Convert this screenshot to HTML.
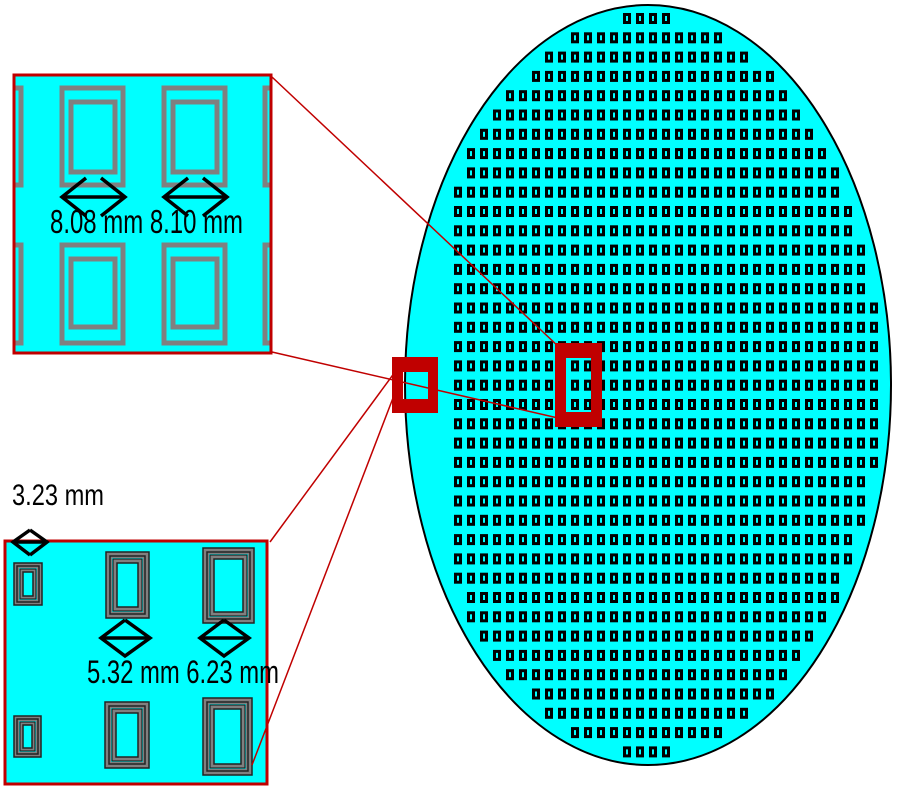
<!DOCTYPE html>
<html><head><meta charset="utf-8"><style>
html,body{margin:0;padding:0;background:#fff;width:900px;height:800px;overflow:hidden}
svg{display:block}
text{font-family:"Liberation Sans Narrow","Liberation Sans",sans-serif;fill:#000}
</style></head><body>
<svg id="s" width="900" height="800" viewBox="0 0 900 800" xmlns="http://www.w3.org/2000/svg">
<defs><clipPath id="c1"><rect x="14" y="75" width="257" height="278"/></clipPath></defs>
<ellipse cx="648" cy="385" rx="243" ry="380" fill="#00ffff" stroke="#000" stroke-width="2"/>
<g id="cells"></g>

<path d="M392 357h46v56h-46z M403 372v27h25v-27z" fill="#c00000" fill-rule="evenodd"/>
<path d="M555 343h47v84h-47z M566 358v54h25v-54z" fill="#c00000" fill-rule="evenodd"/>

<rect x="14" y="75" width="257" height="278" fill="#00ffff"/>
<g fill="none" stroke="#808080" stroke-width="5" clip-path="url(#c1)">
<rect x="62" y="88" width="61" height="97"/><rect x="71" y="102" width="44" height="70"/>
<rect x="164" y="88" width="61" height="97"/><rect x="173" y="102" width="44" height="70"/>
<rect x="62" y="245" width="61" height="98"/><rect x="71" y="259" width="44" height="68"/>
<rect x="164" y="245" width="61" height="98"/><rect x="173" y="259" width="44" height="68"/>
<rect x="4" y="88" width="17" height="97"/><rect x="4" y="245" width="17" height="98"/>
<rect x="265" y="88" width="17" height="97"/><rect x="265" y="245" width="17" height="98"/>
</g>
<rect x="14" y="75" width="257" height="278" fill="none" stroke="#c00000" stroke-width="3"/>
<g stroke="#000" stroke-width="3.5" fill="none">
<line x1="62" y1="197" x2="125" y2="197"/>
<polyline points="86,178 62,197 86,216"/><polyline points="101,178 125,197 101,216"/>
<line x1="164" y1="197" x2="227" y2="197"/>
<polyline points="188,178 164,197 188,216"/><polyline points="203,178 227,197 203,216"/>
</g>
<text x="50" y="233" font-size="33" textLength="193" lengthAdjust="spacingAndGlyphs">8.08 mm 8.10 mm</text>

<rect x="5" y="541" width="262" height="243" fill="#00ffff" stroke="#c00000" stroke-width="3"/>
<g id="frames"></g>
<g stroke="#000" stroke-width="3.5" fill="none">
<line x1="13" y1="542" x2="47" y2="542"/>
<polyline points="30,530 13,542 30,555"/><polyline points="30,530 47,542 30,555"/>
<line x1="101" y1="638" x2="150" y2="638"/>
<polyline points="125,620 101,638 125,656 150,638 125,620"/>
<line x1="200" y1="638" x2="249" y2="638"/>
<polyline points="224,620 200,638 224,656 249,638 224,620"/>
</g>
<text x="12" y="505" font-size="30" textLength="92" lengthAdjust="spacingAndGlyphs">3.23 mm</text>
<text x="87" y="683" font-size="32" textLength="192" lengthAdjust="spacingAndGlyphs">5.32 mm 6.23 mm</text>

<g stroke="#c00000" stroke-width="1.5" fill="none">
<line x1="272" y1="77" x2="560" y2="348"/>
<line x1="272" y1="352" x2="558" y2="418"/>
<line x1="270" y1="542" x2="395" y2="372"/>
<line x1="252" y1="765" x2="393" y2="398"/>
</g>
</svg>
<script>
(function(){
var NS="http://www.w3.org/2000/svg";
function r(p,x,y,w,h,f,s,sw){var e=document.createElementNS(NS,"rect");e.setAttribute("x",x);e.setAttribute("y",y);e.setAttribute("width",w);e.setAttribute("height",h);e.setAttribute("fill",f);if(s){e.setAttribute("stroke",s);e.setAttribute("stroke-width",sw);}p.appendChild(e);}
var g=document.getElementById("cells");
var cx=648,cy=385,RX=236,RY=375;
function inside(x,y){var a=(x-cx)/RX,b=(y-cy)/RY;return a*a+b*b<=1;}
for(var i=0;i<39;i++){
 var yc=19+i*19.3, y=yc-6;
 for(var x=623-13*13;x<900;x+=13){
  if(inside(x,y)&&inside(x+8,y)&&inside(x,y+11)&&inside(x+8,y+11)){
   r(g,x,y,8,11,"#000");
   r(g,x+3,y+3,2,5,"#00ffff");
  }
 }
}
var f=document.getElementById("frames");
function frame(x,y,w,h,n){
 r(f,x,y,w,h,"#808080","#222",1.5);
 for(var k=1;k<=n;k++){
  var d=k*(w>40?7:6)-3;
  r(f,x+d,y+d,w-2*d,h-2*d,k==n?"#00ffff":"#808080","#222",1.5);
  if(k<n){var d2=d+2;r(f,x+d2,y+d2,w-2*d2,h-2*d2,"#00ffff",null);var d3=d2+1;r(f,x+d3,y+d3,w-2*d3,h-2*d3,"#808080","#222",1.2);}
 }
}
frame(14,563,28,42,2);frame(14,716,27,41,2);
frame(106,552,43,66,2);frame(105,702,44,66,2);
frame(203,548,51,75,2);frame(203,698,49,77,2);
})();
</script>
</body></html>
